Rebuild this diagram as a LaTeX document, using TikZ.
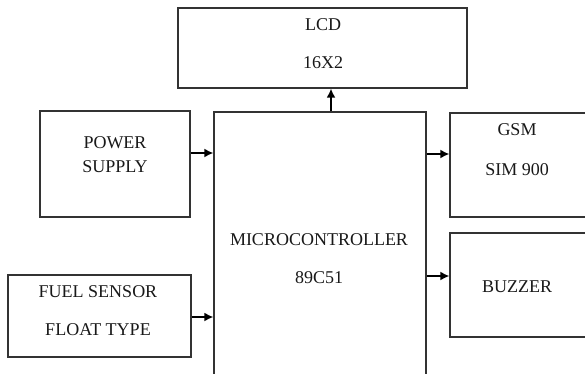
\documentclass[tikz,border=0pt]{standalone}
\usepackage{fontspec}
\setmainfont{Liberation Serif}
\usetikzlibrary{arrows.meta}
\begin{document}
\begin{tikzpicture}[x=1pt,y=-1pt,
  blk/.style={draw=black!80,line width=1.2pt,minimum width=#1,inner sep=0pt},
  lbl/.style={font=\fontsize{18}{21}\selectfont,inner sep=0pt,text=black!90},
  arr/.style={line width=2.6pt,-{Latex[length=9pt,width=9pt]}}]
\clip (0,0) rectangle (585,373);
\fill[white] (0,0) rectangle (585,373);
\node[blk=289pt,minimum height=80pt] (lcd) at (322.5,48) {};
\node[blk=150pt,minimum height=106pt] (power) at (115,164) {};
\node[blk=212pt,minimum height=288pt] (mcu) at (320,256) {};
\node[blk=183pt,minimum height=82pt] (fuel) at (99.5,316) {};
\node[blk=150pt,minimum height=104pt] (gsm) at (525,165) {};
\node[blk=150pt,minimum height=104pt] (buzz) at (525,285) {};
\node[lbl] (t1) at (323,25) {LCD};
\node[lbl] (t2) at (323,63) {16X2};
\node[lbl] (t3) at (115,143) {POWER};
\node[lbl] (t4) at (115,167) {SUPPLY};
\node[lbl] (t5) at (319,240) {MICROCONTROLLER};
\node[lbl] (t6) at (319,278) {89C51};
\node[lbl] (t7) at (98,292) {FUEL SENSOR};
\node[lbl] (t8) at (98,330) {FLOAT TYPE};
\node[lbl] (t9) at (517,130) {GSM};
\node[lbl] (t10) at (517,170) {SIM 900};
\node[lbl] (t11) at (517,287) {BUZZER};
\coordinate (a1) at (0,153);
\coordinate (a2) at (0,317);
\coordinate (a3) at (0,154);
\coordinate (a4) at (0,276);
\coordinate (a5) at (331,0);
\draw[arr] (power.east |- a1) -- (mcu.west |- a1);
\draw[arr] (fuel.east |- a2) -- (mcu.west |- a2);
\draw[arr] (mcu.east |- a3) -- (gsm.west |- a3);
\draw[arr] (mcu.east |- a4) -- (buzz.west |- a4);
\draw[arr] (mcu.north -| a5) -- (lcd.south -| a5);
\end{tikzpicture}
\end{document}
